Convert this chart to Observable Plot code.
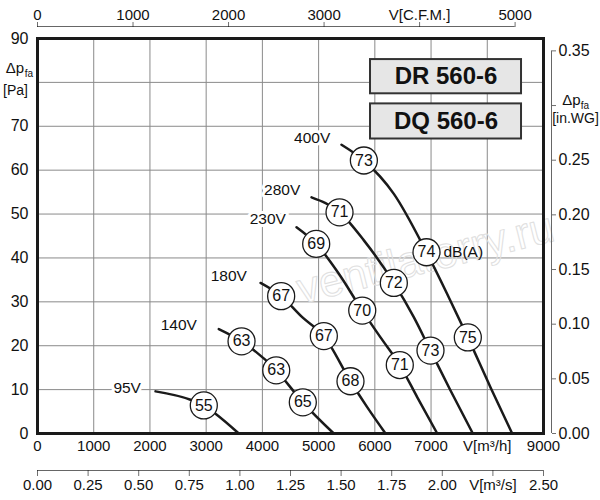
<!DOCTYPE html>
<html>
<head>
<meta charset="utf-8">
<script src="https://cdn.jsdelivr.net/npm/d3@7"></script>
<script src="https://cdn.jsdelivr.net/npm/@observablehq/plot@0.6"></script>
<style>
  body { margin: 0; background: white; }
</style>
</head>
<body>
<div id="grafico"></div>
<script>
// conversiones de unidades
const CFM = 1.699   // m3/h por CFM
const INWG = 249.09 // Pa por in.WG

// ticks de los ejes
const flowTicks = [0, 1000, 2000, 3000, 4000, 5000, 6000, 7000, 8000, 9000]
const pressTicks = [0, 10, 20, 30, 40, 50, 60, 70, 80, 90]
const cfmTicks = [0, 1000, 2000, 3000, 4000, 5000]
const m3sTicks = [0, 0.25, 0.5, 0.75, 1, 1.25, 1.5, 1.75, 2, 2.25, 2.5]
const inwgTicks = [0, 0.05, 0.1, 0.15, 0.2, 0.25, 0.3, 0.35]

// curvas caudal (m3/h) - presion (Pa) por tension
const speeds = ['95V', '140V', '180V', '230V', '280V', '400V']
const q95 = [2099, 2721, 2958, 3166, 3580]
const p95 = [9.6, 7.7, 6.4, 4.5, 0]
const q140 = [3225, 3629, 4246, 4719, 5270]
const p140 = [23.8, 21.0, 14.4, 7.1, 0]
const q180 = [3967, 4334, 4708, 5093, 5567, 5864, 6190]
const p180 = [34.3, 31.3, 26.5, 22.2, 11.9, 6.0, 0]
const q230 = [4607, 4957, 5360, 5776, 6101, 6444, 6753, 7110]
const p230 = [47.0, 43.2, 36.4, 28.0, 21.9, 15.6, 8.3, 0]
const q280 = [4874, 5372, 5805, 6338, 6693, 6990, 7346, 7743]
const p280 = [53.8, 50.4, 44.0, 34.3, 26.5, 18.9, 9.8, 0]
const q400 = [5407, 5805, 6338, 6919, 7287, 7654, 8058, 8443]
const p400 = [65.8, 62.2, 54.6, 41.3, 31.8, 21.9, 10.5, 0]

// etiquetas de tension
const speedLabelQ = [1595, 2513, 3403, 4096, 4352, 4886]
const speedLabelP = [10.4, 24.8, 35.8, 48.9, 55.4, 67.4]

// nivel sonoro dB(A)
const noiseQ = [2958, 3629, 4246, 4719, 4334, 5093, 5567, 4957, 5776, 6444, 5372, 6338, 6990, 5805, 6919, 7654]
const noiseP = [6.4, 21.0, 14.4, 7.1, 31.3, 22.2, 11.9, 43.2, 28.0, 15.6, 50.4, 34.3, 18.9, 62.2, 41.3, 21.9]
const noiseDb = [55, 63, 63, 65, 67, 67, 68, 69, 70, 71, 71, 72, 73, 73, 74, 75]

const models = ['DR 560-6', 'DQ 560-6']

/* armamos la tabla de curvas */
const curvas = [[q95, p95], [q140, p140], [q180, p180], [q230, p230], [q280, p280], [q400, p400]]
const tabla = curvas.flatMap(([q, p], k) => q.map((v, i) => ({speed: speeds[k], q: v, p: p[i]})))
const ruidos = noiseQ.map((v, i) => ({q: v, p: noiseP[i], db: noiseDb[i]}))
const etiquetas = speeds.map((s, i) => ({s, q: speedLabelQ[i], p: speedLabelP[i]}))

const gris = '#8a8a8a'
const centrado = {textAnchor: 'middle', lineAnchor: 'middle'}

let chart = Plot.plot({
  width: 600,
  height: 500,
  marginLeft: 37,
  marginRight: 57,
  marginTop: 38,
  marginBottom: 67,
  x: {domain: [0, 9000]},
  y: {domain: [0, 90]},
  style: {fontFamily: '"Liberation Sans", Arial, sans-serif', fontSize: '15px', background: 'white', color: '#111'},
  marks: [
    Plot.gridX({ticks: flowTicks, stroke: gris, strokeOpacity: 1}),
    Plot.gridY({ticks: pressTicks, stroke: gris, strokeOpacity: 1}),

    // marca de agua
    Plot.text(['ventilatorry.ru'], {x: 6901, y: 39.9, rotate: -14, fontSize: 44, fill: 'none', stroke: '#e0e0e0', strokeWidth: 1}),

    Plot.frame({stroke: '#1a1a1a', strokeWidth: 3}),

    // curvas
    Plot.line(tabla, {x: 'q', y: 'p', z: 'speed', curve: 'monotone-x', stroke: '#1a1a1a', strokeWidth: 2.5}),
    Plot.text(etiquetas, {x: 'q', y: 'p', text: 's', fontSize: 15.5, stroke: 'white', strokeWidth: 6, fill: '#111'}),

    // circulos dB(A)
    Plot.dot(ruidos, {x: 'q', y: 'p', r: 13.5, fill: 'white', stroke: '#1a1a1a', strokeWidth: 1.3}),
    Plot.text(ruidos, {x: 'q', y: 'p', text: 'db', fontSize: 16, fill: '#111'}),
    Plot.text(['dB(A)'], {x: 6919, y: 41.3, dx: 17, textAnchor: 'start', fontSize: 15.5}),

    // cajas de modelo
    Plot.rect(models, {x1: 5923, x2: 8609, y1: (d, i) => [77.4, 67.1][i], y2: (d, i) => [85.2, 75.1][i], fill: '#e6e6e6', stroke: '#333', strokeWidth: 2}),
    Plot.text(models, {x: 7266, y: (d, i) => [81.3, 71.1][i], fontSize: 24, fontWeight: 'bold', fill: '#111'}),

    // eje izquierdo Pa
    Plot.axisY({ticks: pressTicks.filter(d => d !== 80), tickSize: 0, tickFormat: d => String(d), label: null, fontSize: 16}),
    Plot.text(['Δp'], {frameAnchor: 'top-left', dx: -22.5, dy: 30, fontSize: 15, ...centrado}),
    Plot.text(['fa'], {frameAnchor: 'top-left', dx: -8.5, dy: 35, fontSize: 10, ...centrado}),
    Plot.text(['[Pa]'], {frameAnchor: 'top-left', dx: -22, dy: 52, fontSize: 14, ...centrado}),

    // eje inferior m3/h
    Plot.axisX({ticks: flowTicks, tickSize: 0, tickPadding: 7, label: null, fontSize: 15,
      tickFormat: d => d === 8000 ? 'V[m³/h]' : String(d)}),

    // eje superior CFM
    Plot.ruleY([90], {x1: 0, x2: 5000 * CFM, dy: -12, stroke: '#666'}),
    Plot.axisX({anchor: 'top', ticks: cfmTicks.map(c => c * CFM), tickSize: 5, tickPadding: 2, dy: -12, label: null, fontSize: 15,
      strokeOpacity: 0.6,
      tickFormat: d => { const c = Math.round(d / CFM); return c === 4000 ? 'V[C.F.M.]' : String(c) }}),

    // eje inferior m3/s
    Plot.ruleY([0], {x1: 0, x2: 9000, dy: 37, stroke: '#666'}),
    Plot.axisX({anchor: 'bottom', ticks: m3sTicks.map(v => v * 3600), tickSize: 6, tickPadding: 3, dy: 37, label: null, fontSize: 15,
      strokeOpacity: 0.6,
      tickFormat: d => { const v = d / 3600; return Math.abs(v - 2.25) < 1e-9 ? 'V[m³/s]' : v.toFixed(2) }}),

    // eje derecho in.WG
    Plot.ruleX([9000], {y1: 0, y2: 0.35 * INWG, dx: 8, stroke: '#666'}),
    Plot.axisY({anchor: 'right', ticks: inwgTicks.map(v => v * INWG), tickSize: 4, tickPadding: 3, dx: 8, label: null, fontSize: 16,
      strokeOpacity: 0.6,
      tickFormat: d => { const v = d / INWG; return Math.abs(v - 0.3) < 1e-9 ? '' : v.toFixed(2) }}),
    Plot.text(['Δp'], {frameAnchor: 'top-right', dx: 28, dy: 62, fontSize: 15, ...centrado}),
    Plot.text(['fa'], {frameAnchor: 'top-right', dx: 41.5, dy: 67, fontSize: 10, ...centrado}),
    Plot.text(['[in.WG]'], {frameAnchor: 'top-right', dx: 32, dy: 80, fontSize: 14, ...centrado}),
  ],
})

d3.select('#grafico').append(() => chart)
</script>
</body>
</html>
